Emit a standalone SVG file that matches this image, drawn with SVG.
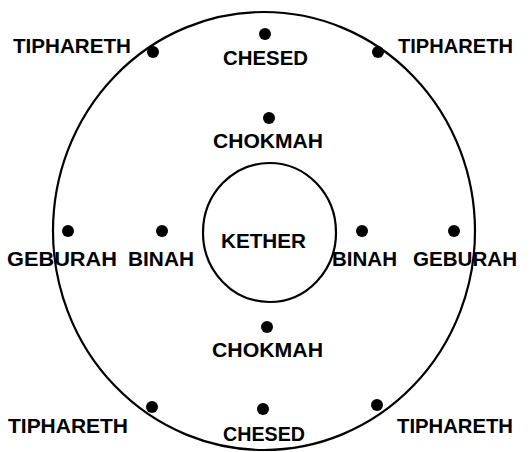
<svg xmlns="http://www.w3.org/2000/svg" width="531" height="452" viewBox="0 0 531 452">
<style>
.ring{fill:none;stroke:#000;stroke-width:2.2}
.dot{fill:#000}
text{font-family:"Liberation Sans",Arial,sans-serif;font-weight:bold;font-size:21px;fill:#000}
</style>
<rect width="531" height="452" fill="#fff"/>
<g id="outer-circle"><ellipse class="ring" cx="264" cy="231" rx="211" ry="219"/></g>
<g id="kether"><ellipse class="ring" cx="269.5" cy="232.5" rx="66.5" ry="69.5"/>
<text x="221" y="248" textLength="85" lengthAdjust="spacingAndGlyphs">KETHER</text></g>
<g id="tiphareth-tl"><circle class="dot" cx="153" cy="52" r="6"/><text x="13" y="53" textLength="118" lengthAdjust="spacingAndGlyphs">TIPHARETH</text></g>
<g id="chesed-top"><circle class="dot" cx="265" cy="34" r="6"/><text x="223" y="65" textLength="85" lengthAdjust="spacingAndGlyphs">CHESED</text></g>
<g id="tiphareth-tr"><circle class="dot" cx="378" cy="52" r="6"/><text x="398" y="53" textLength="115" lengthAdjust="spacingAndGlyphs">TIPHARETH</text></g>
<g id="chokmah-top"><circle class="dot" cx="269" cy="118" r="6"/><text x="213" y="148" textLength="110" lengthAdjust="spacingAndGlyphs">CHOKMAH</text></g>
<g id="geburah-left"><circle class="dot" cx="68" cy="231" r="6"/><text x="7" y="266" textLength="110" lengthAdjust="spacingAndGlyphs">GEBURAH</text></g>
<g id="binah-left"><circle class="dot" cx="162" cy="231" r="6"/><text x="128" y="266" textLength="66" lengthAdjust="spacingAndGlyphs">BINAH</text></g>
<g id="binah-right"><circle class="dot" cx="362" cy="231" r="6"/><text x="332" y="266" textLength="65" lengthAdjust="spacingAndGlyphs">BINAH</text></g>
<g id="geburah-right"><circle class="dot" cx="454" cy="231" r="6"/><text x="413" y="266" textLength="104" lengthAdjust="spacingAndGlyphs">GEBURAH</text></g>
<g id="chokmah-bottom"><circle class="dot" cx="267" cy="327" r="6"/><text x="212" y="357" textLength="111" lengthAdjust="spacingAndGlyphs">CHOKMAH</text></g>
<g id="tiphareth-bl"><circle class="dot" cx="152" cy="407" r="6"/><text x="8" y="433" textLength="120" lengthAdjust="spacingAndGlyphs">TIPHARETH</text></g>
<g id="chesed-bottom"><circle class="dot" cx="263" cy="409" r="6"/><text x="223" y="441" textLength="82" lengthAdjust="spacingAndGlyphs">CHESED</text></g>
<g id="tiphareth-br"><circle class="dot" cx="377" cy="405" r="6"/><text x="397" y="433" textLength="116" lengthAdjust="spacingAndGlyphs">TIPHARETH</text></g>
<g id="connectors"/>
</svg>
